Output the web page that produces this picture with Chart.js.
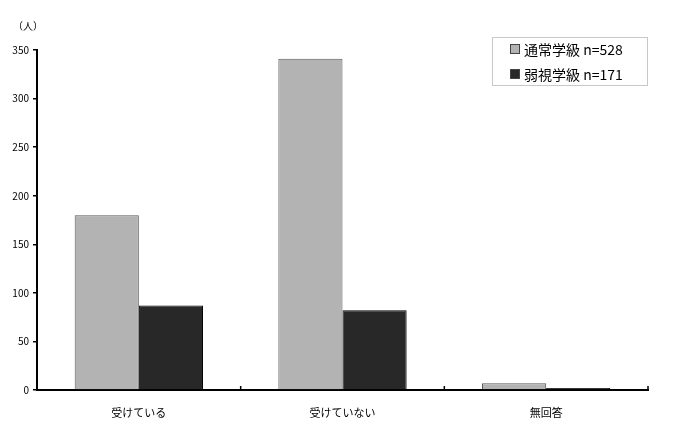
<!DOCTYPE html>
<html>
<head>
<meta charset="utf-8">
<script src="https://cdn.jsdelivr.net/npm/chart.js@4.4.0/dist/chart.umd.min.js"></script>
<style>
  body { margin: 0; background: #fff; }
  canvas { display: block; }
</style>
</head>
<body>
<canvas id="myChart" width="681" height="424"></canvas>
<script>
var categorias = ['受けている', '受けていない', '無回答'];
var series = ['通常学級 n=528', '弱視学級 n=171'];
var tsujo = [180, 341, 7];
var jakushi = [87, 82, 2];
var ticksY = [0, 50, 100, 150, 200, 250, 300, 350];

var FONT = '"Noto Sans CJK JP", "Noto Sans", sans-serif';

// legend box drawn inside the chart area, top right
var boxLegend = {
    id: 'boxLegend',
    afterDraw: function(chart) {
        var c = chart.ctx;
        var area = chart.chartArea;
        var x0 = area.right - 156, y0 = area.top - 13;
        c.save();
        c.strokeStyle = '#c8c8c8';
        c.lineWidth = 1;
        c.strokeRect(x0 + 0.5, y0 + 0.5, 155, 48);
        c.font = '14px ' + FONT;
        c.textBaseline = 'middle';
        chart.data.datasets.forEach(function(ds, i) {
            var y = y0 + 12 + i * 25;
            c.fillStyle = ds.backgroundColor;
            c.fillRect(x0 + 18, y - 5, 10, 10);
            c.strokeStyle = '#444';
            c.strokeRect(x0 + 18.5, y - 4.5, 9, 9);
            c.fillStyle = '#000';
            c.fillText(ds.label, x0 + 32, y + 1);
        });
        c.restore();
    }
};

// small tick marks on the x axis pointing into the plot, at category borders
var xTicks = {
    id: 'xTicks',
    afterDraw: function(chart) {
        var c = chart.ctx;
        var xs = chart.scales.x;
        var half = (xs.getPixelForValue(1) - xs.getPixelForValue(0)) / 2;
        c.save();
        c.strokeStyle = '#000';
        c.lineWidth = 1.5;
        for (var i = 0; i <= categorias.length; i++) {
            var px = xs.getPixelForValue(i) - half;
            c.beginPath();
            c.moveTo(px, chart.chartArea.bottom);
            c.lineTo(px, chart.chartArea.bottom - 4);
            c.stroke();
        }
        c.restore();
    }
};

var ctx = document.getElementById('myChart').getContext('2d');
var data = {
    labels: categorias,
    datasets: [{
        label: series[0],
        data: tsujo,
        backgroundColor: '#b3b3b3',
        borderColor: '#5a5a5a',
        borderWidth: 1
    }, {
        label: series[1],
        data: jakushi,
        backgroundColor: '#282828',
        borderColor: '#000',
        borderWidth: 1
    }]
};

var myChart = new Chart(ctx, {
    type: 'bar',
    data: data,
    options: {
        responsive: false,
        animation: false,
        layout: { padding: { top: 50, right: 33, bottom: 0, left: 0 } },
        datasets: { bar: { categoryPercentage: 0.63, barPercentage: 1.0 } },
        plugins: {
            legend: { display: false },
            tooltip: { enabled: false },
            title: { display: false }
        },
        scales: {
            x: {
                grid: { display: false },
                border: { color: '#000', width: 2 },
                ticks: { color: '#000', font: { family: FONT, size: 11 }, padding: 8 },
                afterFit: function(s) { s.height = 34; }
            },
            y: {
                min: 0,
                max: 350,
                afterBuildTicks: function(s) { s.ticks = ticksY.map(function(v) { return { value: v }; }); },
                grid: { drawOnChartArea: false, color: '#000', tickLength: 4, lineWidth: 1.5 },
                border: { color: '#000', width: 2 },
                ticks: { color: '#000', font: { family: FONT, size: 10 }, padding: 4 },
                afterFit: function(s) { s.width = 37; }
            }
        }
    },
    plugins: [boxLegend, xTicks, {
        id: 'unidad',
        afterDraw: function(chart) {
            var c = chart.ctx;
            c.save();
            c.font = '10px ' + FONT;
            c.fillStyle = '#000';
            c.textAlign = 'center';
            c.textBaseline = 'middle';
            c.fillText('（人）', 28, 26);
            c.restore();
        }
    }]
});
</script>
</body>
</html>
